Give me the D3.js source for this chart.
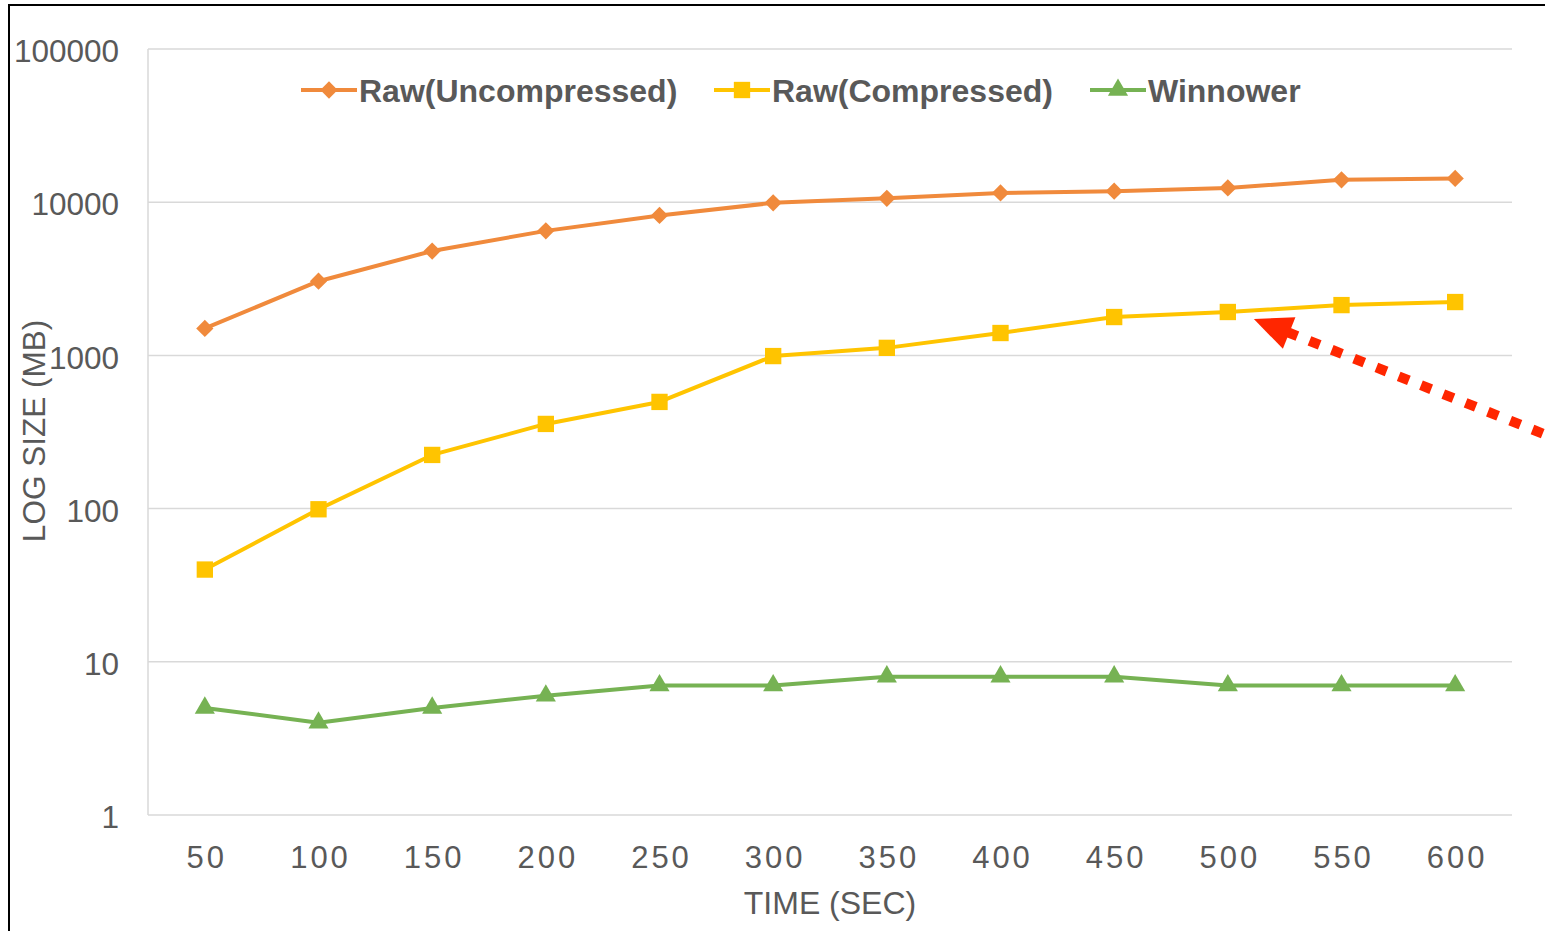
<!DOCTYPE html>
<html>
<head>
<meta charset="utf-8">
<script src="https://cdn.jsdelivr.net/npm/d3@7"></script>
<style>
  html, body { margin: 0; padding: 0; background: #ffffff; }
  svg { display: block; }
  text { font-family: "Liberation Sans", Arial, sans-serif; }
</style>
</head>
<body>
<svg id="chart" width="1545" height="931"></svg>
<script>
// Elapsed time (seconds)
const times = ["50", "100", "150", "200", "250", "300", "350", "400", "450", "500", "550", "600"];
// Data size (MB)
const rawUncompressed = [1500, 3050, 4800, 6500, 8200, 9900, 10600, 11500, 11800, 12400, 14000, 14300];
const rawCompressed   = [40, 99, 224, 357, 497, 990, 1120, 1400, 1780, 1920, 2130, 2230];
const winnower        = [5, 4, 5, 6, 7, 7, 8, 8, 8, 7, 7, 7];
const yTicks = [1, 10, 100, 1000, 10000, 100000];

const series = [
  { name: "Raw(Uncompressed)", values: rawUncompressed, color: "#F08A3C", symbol: d3.symbolDiamond2, size: 190 },
  { name: "Raw(Compressed)",   values: rawCompressed,   color: "#FFC400", symbol: d3.symbolSquare2,  size: 340 },
  { name: "Winnower",          values: winnower,        color: "#76B253", symbol: d3.symbolTriangle2, size: 290 }
];

const svg = d3.select("#chart");
const W = 1545, H = 931;
const plot = { left: 148, right: 1512, top: 49, bottom: 815 };
const textColor = "#595959";

svg.append("rect").attr("width", W).attr("height", H).attr("fill", "#fff");

// outer frame (top and left edges visible)
svg.append("path")
  .attr("d", `M9,${H} V5 H${W}`)
  .attr("fill", "none").attr("stroke", "#000").attr("stroke-width", 2);

const x = d3.scalePoint().domain(times).range([plot.left, plot.right]).padding(0.5);
const y = d3.scaleLog().domain([1, 100000]).range([plot.bottom, plot.top]);

// horizontal gridlines
svg.append("g").selectAll("line").data(yTicks).join("line")
  .attr("x1", plot.left).attr("x2", plot.right)
  .attr("y1", d => y(d)).attr("y2", d => y(d))
  .attr("stroke", "#d9d9d9").attr("stroke-width", 1.5);

// left axis line
svg.append("line")
  .attr("x1", plot.left).attr("x2", plot.left)
  .attr("y1", plot.top).attr("y2", plot.bottom)
  .attr("stroke", "#d9d9d9").attr("stroke-width", 1.5);

// y axis
const yAxis = d3.axisLeft(y).tickValues(yTicks).tickFormat(d3.format("d")).tickSize(0).tickPadding(29);
const gy = svg.append("g").attr("transform", `translate(${plot.left},0)`).call(yAxis);
gy.select(".domain").remove();
gy.selectAll("text")
  .attr("fill", textColor).attr("font-size", 31.5)
  .attr("dy", "0.40em")
  .style("font-family", '"Liberation Sans", Arial, sans-serif');

// x axis
const xAxis = d3.axisBottom(x).tickSize(0).tickPadding(0);
const gx = svg.append("g").attr("transform", `translate(0,${plot.bottom})`).call(xAxis);
gx.select(".domain").remove();
gx.selectAll("text")
  .attr("fill", textColor).attr("font-size", 31)
  .attr("y", 53).attr("dy", 0)
  .attr("dx", 1.5)
  .style("letter-spacing", "3px")
  .style("font-family", '"Liberation Sans", Arial, sans-serif');

// axis titles
svg.append("text")
  .attr("x", (plot.left + plot.right) / 2).attr("y", 914)
  .attr("text-anchor", "middle").attr("fill", textColor).attr("font-size", 32)
  .text("TIME (SEC)");

svg.append("text")
  .attr("transform", `translate(45,${(plot.top + plot.bottom) / 2 - 1}) rotate(-90)`)
  .attr("text-anchor", "middle").attr("fill", textColor).attr("font-size", 31.5)
  .text("LOG SIZE (MB)");

// series lines and markers
const line = d3.line().x((d, i) => x(times[i])).y(d => y(d));
series.forEach(s => {
  svg.append("path")
    .attr("d", line(s.values))
    .attr("fill", "none").attr("stroke", s.color).attr("stroke-width", 4)
    .attr("stroke-linejoin", "round");
  svg.append("g").selectAll("path").data(s.values).join("path")
    .attr("transform", (d, i) => `translate(${x(times[i])},${y(d)})`)
    .attr("d", d3.symbol().type(s.symbol).size(s.size))
    .attr("fill", s.color);
});

// legend
const legendItems = [
  { s: series[0], x0: 301 },
  { s: series[1], x0: 714 },
  { s: series[2], x0: 1090 }
];
const ly = 90;
legendItems.forEach(({ s, x0 }) => {
  const g = svg.append("g");
  g.append("line").attr("x1", x0).attr("x2", x0 + 56).attr("y1", ly).attr("y2", ly)
    .attr("stroke", s.color).attr("stroke-width", 4);
  g.append("path").attr("transform", `translate(${x0 + 28},${ly})`)
    .attr("d", d3.symbol().type(s.symbol).size(s.size)).attr("fill", s.color);
  g.append("text").attr("x", x0 + 58).attr("y", ly + 12)
    .attr("fill", textColor).attr("font-size", 32).attr("font-weight", "bold")
    .text(s.name);
});

// dotted red arrow pointing at the compressed series near 500 s
const tip = [x("500") + 26, y(rawCompressed[9]) + 7];
const angle = Math.atan2(115, 290);
const headLen = 38, headHalf = 17;
const base = [tip[0] + headLen * Math.cos(angle), tip[1] + headLen * Math.sin(angle)];
const tailX = W + 10;
const tail = [tailX, base[1] + (tailX - base[0]) * Math.tan(angle)];
svg.append("line")
  .attr("x1", base[0] - 2).attr("y1", base[1] - 1)
  .attr("x2", tail[0]).attr("y2", tail[1])
  .attr("stroke", "#FF2600").attr("stroke-width", 10)
  .attr("stroke-dasharray", "11 13");
const px = -Math.sin(angle), py = Math.cos(angle);
svg.append("path")
  .attr("d", `M${tip[0]},${tip[1]} L${base[0] + px * headHalf},${base[1] + py * headHalf} L${base[0] - px * headHalf},${base[1] - py * headHalf} Z`)
  .attr("fill", "#FF2600");
</script>
</body>
</html>
